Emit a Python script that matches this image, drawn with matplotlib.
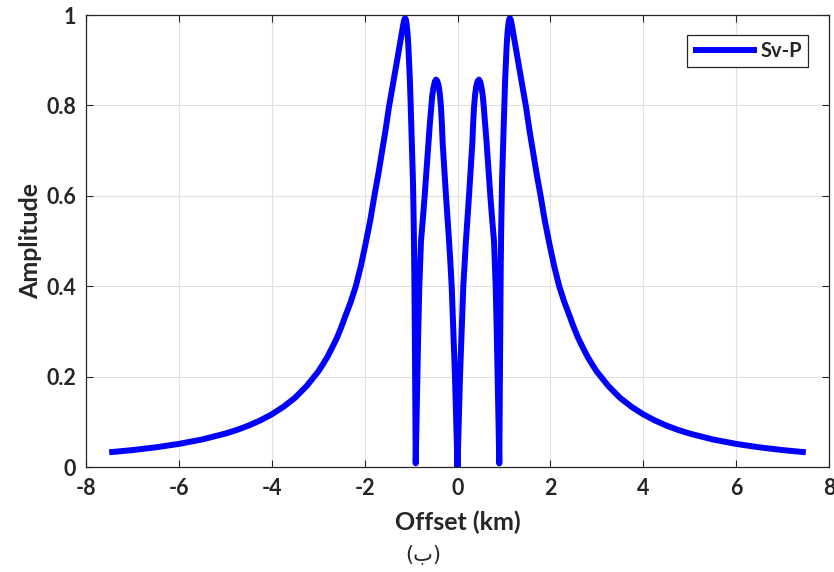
import matplotlib
matplotlib.use("Agg")
import matplotlib.pyplot as plt

# Sv-P converted-wave amplitude versus source-receiver offset (km).
# The response is symmetric about zero offset: the positive branch is
# tabulated and the negative branch is its mirror image.
offset_pos_km = [
    0.0, 0.027, 0.054, 0.09, 0.125, 0.155, 0.183, 0.215, 0.248, 0.285,
    0.319, 0.337, 0.355, 0.38, 0.405, 0.435, 0.463, 0.49, 0.52, 0.545,
    0.563, 0.595, 0.628, 0.665, 0.707, 0.745, 0.786, 0.805, 0.822, 0.845,
    0.865, 0.883, 0.90, 0.91, 0.92, 0.93, 0.94, 0.95, 0.96, 0.973, 0.986,
    1.008, 1.025, 1.044, 1.06, 1.08, 1.10, 1.115, 1.13, 1.15, 1.17, 1.20,
    1.238, 1.30, 1.35, 1.41, 1.475, 1.55, 1.632, 1.71, 1.79, 1.88, 1.977,
    2.08, 2.19, 2.3, 2.4, 2.5, 2.6, 2.7, 2.8, 2.9, 3.0, 3.25, 3.5, 3.75,
    4.0, 4.25, 4.5, 4.75, 5.0, 5.5, 6.0, 6.5, 7.0, 7.5,
]
amplitude_pos = [
    0.0, 0.10, 0.20, 0.30, 0.40, 0.455, 0.502, 0.55, 0.60, 0.66,
    0.716, 0.76, 0.795, 0.825, 0.843, 0.854, 0.857, 0.852, 0.838, 0.82,
    0.80, 0.76, 0.716, 0.66, 0.60, 0.55, 0.50, 0.45, 0.40, 0.30,
    0.20, 0.10, 0.008, 0.16, 0.31, 0.43, 0.52, 0.585, 0.635, 0.68, 0.72,
    0.80, 0.855, 0.90, 0.935, 0.965, 0.983, 0.991, 0.993, 0.988, 0.978, 0.96,
    0.937, 0.90, 0.87, 0.835, 0.797, 0.745, 0.694, 0.645, 0.60, 0.545, 0.495,
    0.445, 0.40, 0.365, 0.338, 0.31, 0.285, 0.264, 0.244, 0.227, 0.211,
    0.179, 0.153, 0.133, 0.1165, 0.103, 0.0916, 0.082, 0.0739, 0.0609,
    0.0511, 0.0435, 0.0374, 0.0326,
]
offset_km = [-v for v in offset_pos_km[:0:-1]] + offset_pos_km
amplitude = amplitude_pos[:0:-1] + amplitude_pos

x_ticks = [-8, -6, -4, -2, 0, 2, 4, 6, 8]
x_tick_labels = ["-8", "-6", "-4", "-2", "0", "2", "4", "6", "8"]
y_ticks = [0, 0.2, 0.4, 0.6, 0.8, 1.0]
y_tick_labels = ["0", "0.2", "0.4", "0.6", "0.8", "1"]
series_name = "Sv-P"

ink = "#262626"
plt.rcParams["font.family"] = ["Lato", "DejaVu Sans"]
plt.rcParams["font.weight"] = "bold"

fig = plt.figure(figsize=(8.34, 5.72), dpi=100)
ax = fig.add_axes([86 / 834, 1 - 467 / 572, 743 / 834, 452 / 572])

ax.plot(offset_km, amplitude, color="#0000ff", linewidth=4.3,
        solid_joinstyle="round", solid_capstyle="butt", label=series_name)

ax.set_xlim(-8, 8)
ax.set_ylim(0, 1)
ax.set_xticks(x_ticks)
ax.set_xticklabels(x_tick_labels)
ax.set_yticks(y_ticks)
ax.set_yticklabels(y_tick_labels)
ax.grid(True, color="#e0e0e0", linewidth=0.8)
ax.set_axisbelow(True)

ax.tick_params(axis="both", which="both", direction="in", length=5,
               width=0.8, color=ink, labelcolor=ink, labelsize=15.5,
               top=True, right=True)
ax.tick_params(axis="x", pad=8)
ax.tick_params(axis="y", pad=7)
for lab in ax.get_xticklabels() + ax.get_yticklabels():
    lab.set_fontweight("bold")
for sp in ax.spines.values():
    sp.set_color(ink)
    sp.set_linewidth(0.9)

ax.set_xlabel("Offset (km)", fontsize=18, fontweight="bold", color=ink,
              labelpad=8)
ax.set_ylabel("Amplitude", fontsize=18, fontweight="bold", color=ink,
              labelpad=3)

leg = ax.legend(loc="upper right", bbox_to_anchor=(0.9717, 0.9558),
                fontsize=14.5, handlelength=3.2, handletextpad=0.15,
                borderpad=0.3, borderaxespad=0, fancybox=False,
                framealpha=1, edgecolor=ink)
leg.get_frame().set_linewidth(0.9)
for t in leg.get_texts():
    t.set_fontweight("bold")
    t.set_color(ink)

fig.text(423 / 834, 1 - 554 / 572, "(ب)", ha="center", va="center",
         fontsize=15, fontweight="normal", color=ink,
         family=["DejaVu Sans"])

fig.savefig("out.png", dpi=100)
